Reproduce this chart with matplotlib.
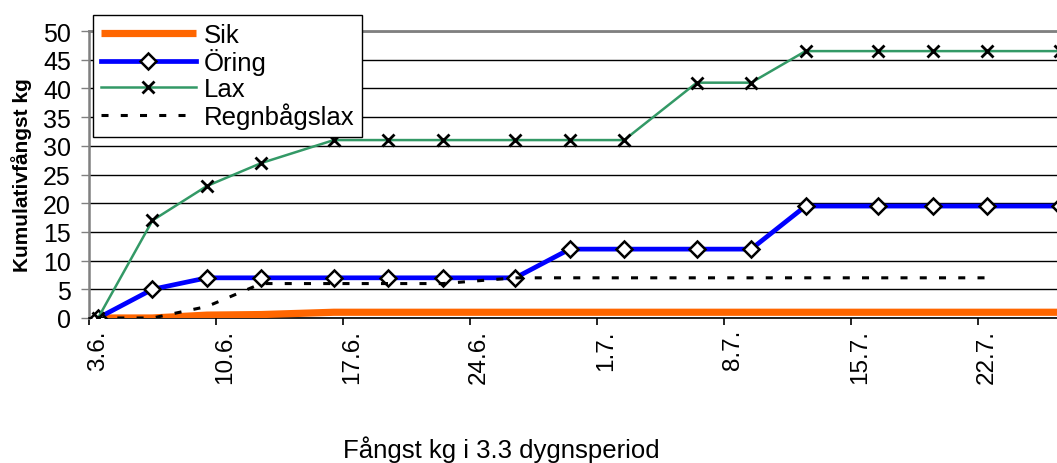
import matplotlib.pyplot as plt
import numpy as np

plt.rcParams['font.family'] = ['Liberation Sans', 'DejaVu Sans']

# days since 3.6., one point per ~3.3 day period
days = [0, 3, 6, 9, 13, 16, 19, 23, 26, 29, 33, 36, 39, 43, 46, 49, 53]
sik = [0, 0, 0.5, 0.6, 1, 1, 1, 1, 1, 1, 1, 1, 1, 1, 1, 1, 1]
oring = [0, 5, 7, 7, 7, 7, 7, 7, 12, 12, 12, 12, 19.5, 19.5, 19.5, 19.5, 19.5]
lax = [0, 17, 23, 27, 31, 31, 31, 31, 31, 31, 41, 41, 46.5, 46.5, 46.5, 46.5, 46.5]
regnbage = [0, 0, 2, 6, 6, 6, 6, 7, 7, 7, 7, 7, 7, 7, 7, 7, np.nan]

date_labels = ['3.6.', '10.6.', '17.6.', '24.6.', '1.7.', '8.7.', '15.7.', '22.7.']

fig = plt.figure(figsize=(10.57, 4.64), dpi=100)
ax = fig.add_axes([0.0842, 0.3125, 0.9268, 0.6185])

ax.set_xlim(-0.5, 53.5)
ax.set_ylim(0, 50)

ax.plot(days, sik, color='#FF6600', lw=5.2, label='Sik', zorder=3,
        solid_capstyle='butt')
ax.plot(days, oring, color='#0000FF', lw=3.4, marker='D', ms=7.8,
        mfc='white', mec='black', mew=1.8, label='Öring', zorder=4)
ax.plot(days, lax, color='#339966', lw=1.8, marker='x', ms=8.5,
        mec='black', mew=2, label='Lax', zorder=5)
ax.plot(days, regnbage, color='black', lw=2.2, dashes=(2.3, 4.0),
        label='Regnbågslax', zorder=6)

# horizontal gridlines
ax.set_yticks(range(0, 51, 5))
ax.yaxis.grid(True, color='black', lw=1)
ax.set_axisbelow(True)

# tick marks at week boundaries, date labels in between
ax.set_xticks([-0.5 + 7 * k for k in range(8)])
ax.set_xticklabels([])
ax.set_xticks([7 * k for k in range(8)], minor=True)
ax.set_xticklabels(date_labels, minor=True, rotation=90, fontsize=17.5)
ax.tick_params(axis='x', which='major', length=5, width=1.2, color='black')
ax.tick_params(axis='x', which='minor', length=0, pad=8)
ax.tick_params(axis='y', length=6, width=1, color='#808080', pad=7,
               labelsize=18)

ax.spines['right'].set_visible(False)
ax.spines['left'].set_color('#808080')
ax.spines['left'].set_linewidth(1.8)
ax.spines['top'].set_color('#808080')
ax.spines['top'].set_linewidth(2)
ax.spines['bottom'].set_color('black')
ax.spines['bottom'].set_linewidth(1.2)

ax.set_ylabel('Kumulativfångst kg', fontsize=15, fontweight='bold')
ax.yaxis.set_label_coords(-0.058, 0.5)

fig.text(501 / 1057, 1 - 450 / 464, 'Fångst kg i 3.3 dygnsperiod',
         fontsize=18.5, ha='center', va='center')

leg = ax.legend(loc='upper left', bbox_to_anchor=(93 / 1057, 1 - 16 / 464),
                bbox_transform=fig.transFigure, fontsize=18.5, frameon=True,
                fancybox=False, edgecolor='black', framealpha=1,
                handlelength=3.7, handletextpad=0.3, labelspacing=0.06,
                borderpad=0.3, borderaxespad=0, numpoints=1)
leg.get_frame().set_linewidth(1)
leg.set_zorder(10)

fig.savefig('out.png', dpi=100)
